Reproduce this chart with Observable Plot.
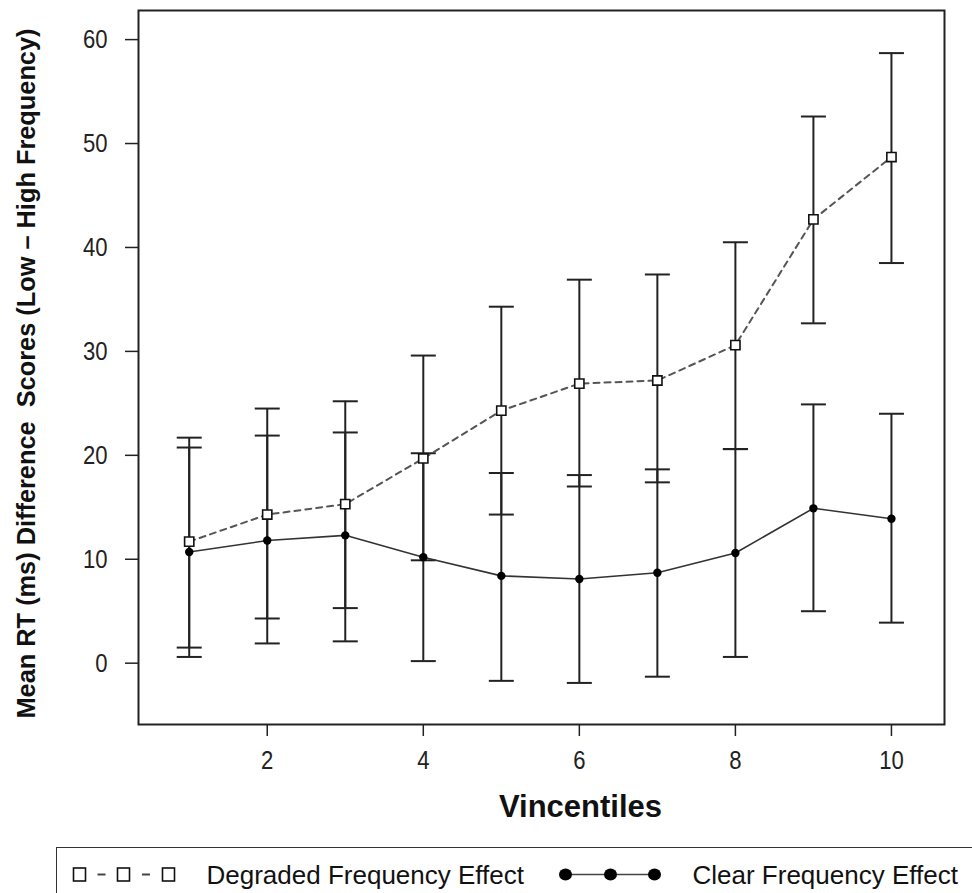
<!DOCTYPE html>
<html><head><meta charset="utf-8">
<script src="https://cdn.jsdelivr.net/npm/d3@7"></script>
<script src="https://cdn.jsdelivr.net/npm/@observablehq/plot@0.6"></script>
<style>
html,body{margin:0;padding:0;background:#fff;overflow:hidden;}
#wrap{position:relative;width:972px;height:893px;overflow:hidden;background:#fff;}
#chart{position:absolute;left:0;top:0;}
#legend{position:absolute;left:56px;top:847px;width:1000px;height:70px;border:1.5px solid #333;box-sizing:border-box;}
</style></head><body>
<div id="wrap"><div id="chart"></div><div id="legend"></div></div>
<script>
const vincentiles = [1, 2, 3, 4, 5, 6, 7, 8, 9, 10];
const xTicks = [2, 4, 6, 8, 10];
const yTicks = [0, 10, 20, 30, 40, 50, 60];
const degradedMean  = [11.7, 14.3, 15.3, 19.7, 24.3, 26.9, 27.2, 30.6, 42.7, 48.7];
const degradedUpper = [21.7, 24.5, 25.2, 29.6, 34.3, 36.9, 37.4, 40.5, 52.6, 58.7];
const degradedLower = [1.5, 4.3, 5.3, 9.9, 14.3, 17.0, 17.4, 20.6, 32.7, 38.5];
const clearMean  = [10.7, 11.8, 12.3, 10.2, 8.4, 8.1, 8.7, 10.6, 14.9, 13.9];
const clearUpper = [20.75, 21.9, 22.2, 20.2, 18.3, 18.1, 18.65, 20.6, 24.9, 24.0];
const clearLower = [0.6, 1.9, 2.1, 0.2, -1.7, -1.9, -1.3, 0.6, 5.0, 3.9];
const xLabel = "Vincentiles";
const yLabel = "Mean RT (ms) Difference  Scores (Low \u2013 High Frequency)";
const seriesNames = ["Degraded Frequency Effect", "Clear Frequency Effect"];

const degraded = vincentiles.map((v, i) => ({x: v, mean: degradedMean[i], lo: degradedLower[i], hi: degradedUpper[i]}));
const clear = vincentiles.map((v, i) => ({x: v, mean: clearMean[i], lo: clearLower[i], hi: clearUpper[i]}));
const rows = degraded.concat(clear);

const capSymbol = {draw(ctx) { ctx.moveTo(-12.5, 0); ctx.lineTo(12.5, 0); }};
const ink = "#222";

const chart = Plot.plot({
  width: 972, height: 845,
  marginLeft: 138, marginRight: 28, marginTop: 10, marginBottom: 121,
  style: {fontFamily: "'Liberation Sans',Arial,sans-serif", fontSize: "26px", color: ink, background: "#fff"},
  x: {domain: [0.35, 10.68], label: null},
  y: {domain: [-5.9, 62.8], label: null},
  marks: [
    Plot.axisX({ticks: xTicks, tickSize: 12, tickPadding: 14, label: null, strokeWidth: 1.5}),
    Plot.axisY({ticks: yTicks, tickSize: 13, tickPadding: 18, label: null, strokeWidth: 1.5}),
    Plot.ruleX(rows, {x: "x", y1: "lo", y2: "hi", stroke: ink, strokeWidth: 2}),
    Plot.dot(rows, {x: "x", y: "lo", symbol: capSymbol, r: 5, fill: "none", stroke: ink, strokeWidth: 2}),
    Plot.dot(rows, {x: "x", y: "hi", symbol: capSymbol, r: 5, fill: "none", stroke: ink, strokeWidth: 2}),
    Plot.line(degraded, {x: "x", y: "mean", stroke: "#555", strokeWidth: 2, strokeDasharray: "6,5"}),
    Plot.line(clear, {x: "x", y: "mean", stroke: "#333", strokeWidth: 1.6}),
    Plot.dot(degraded, {x: "x", y: "mean", symbol: "square", r: 5.2, fill: "#fff", stroke: "#111", strokeWidth: 1.6}),
    Plot.dot(clear, {x: "x", y: "mean", r: 4.2, fill: "#000", stroke: "none"}),
    Plot.frame({stroke: ink, strokeWidth: 2}),
    Plot.text([xLabel], {frameAnchor: "bottom", dx: 39, dy: 83, lineAnchor: "middle", textAnchor: "middle", fontSize: 31, fontWeight: "bold", fill: "#111"}),
    Plot.text([yLabel], {frameAnchor: "left", rotate: -90, dx: -112, dy: 6, lineAnchor: "middle", textAnchor: "middle", fontSize: 25.3, fontWeight: "bold", fill: "#111"})
  ]
});
const yt = Array.from(chart.querySelectorAll("text")).find(t => t.textContent === yLabel);
if (yt) { yt.setAttribute("textLength", 690); yt.setAttribute("lengthAdjust", "spacingAndGlyphs"); yt.style.whiteSpace = "pre"; }
// narrow the tick labels horizontally (the reference uses a condensed face)
chart.querySelectorAll('g[aria-label="x-axis tick label"] text, g[aria-label="y-axis tick label"] text').forEach(t => {
  const tr = t.getAttribute("transform") || "";
  t.setAttribute("transform", tr + " scale(0.85,1)");
});
document.getElementById("chart").appendChild(chart);

// legend (HTML/SVG below the plot)
const ns = "http://www.w3.org/2000/svg";
const lg = document.createElementNS(ns, "svg");
lg.setAttribute("width", 1000); lg.setAttribute("height", 70);
lg.style.display = "block";
const ox = 57.5, oy = 848.5, cy = 875 - oy;
function el(tag, attrs) { const e = document.createElementNS(ns, tag); for (const k in attrs) e.setAttribute(k, attrs[k]); lg.appendChild(e); return e; }
const sq = [80, 124, 169].map(v => v - ox);
for (let i = 0; i < 2; i++) { const m = (sq[i] + sq[i + 1]) / 2; el("line", {x1: m - 4, x2: m + 4, y1: cy, y2: cy, stroke: "#444", "stroke-width": 2}); }
sq.forEach(x => el("rect", {x: x - 6, y: cy - 6.5, width: 12, height: 13, fill: "#fff", stroke: "#111", "stroke-width": 1.6}));
const t1 = el("text", {x: 207 - ox, y: 884 - oy, "font-family": "'Liberation Sans',Arial,sans-serif", "font-size": 26, fill: "#111"});
t1.textContent = seriesNames[0];
const dt = [566, 611, 655].map(v => v - ox);
el("line", {x1: dt[0], x2: dt[2], y1: cy, y2: cy, stroke: "#444", "stroke-width": 1.6});
dt.forEach(x => el("ellipse", {cx: x, cy: cy, rx: 6.5, ry: 6, fill: "#000"}));
const t2 = el("text", {x: 693 - ox, y: 884 - oy, "font-family": "'Liberation Sans',Arial,sans-serif", "font-size": 26, fill: "#111"});
t2.textContent = seriesNames[1];
document.getElementById("legend").appendChild(lg);
</script>
</body></html>
